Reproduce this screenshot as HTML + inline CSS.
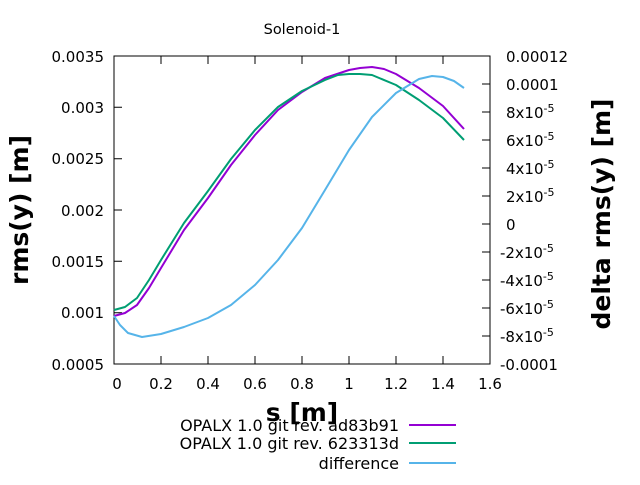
<!DOCTYPE html>
<html><head><style>body{margin:0;background:#fff}</style></head><body>
<svg width="640" height="480" xmlns="http://www.w3.org/2000/svg" font-family="DejaVu Sans, sans-serif" font-size="15">
<rect width="640" height="480" fill="#fff"/>
<text x="302" y="34" text-anchor="middle" font-size="14.5">Solenoid-1</text>
<rect x="114" y="56" width="376" height="308" fill="none" stroke="#000" stroke-width="1"/>
<g stroke="#000" stroke-width="1">
<path d="M114 364v-8M161 364v-8M208 364v-8M255 364v-8M302 364v-8M349 364v-8M396 364v-8M443 364v-8M161 56v8M208 56v8M255 56v8M302 56v8M349 56v8M396 56v8M443 56v8"/>
<path d="M114 312.7h8M114 261.3h8M114 210h8M114 158.7h8M114 107.3h8"/>
<path d="M490 336h-8M490 308h-8M490 280h-8M490 252h-8M490 224h-8M490 196h-8M490 168h-8M490 140h-8M490 112h-8M490 84h-8"/>
</g>
<g text-anchor="middle">
<text x="117" y="389">0</text><text x="161" y="389">0.2</text><text x="208" y="389">0.4</text><text x="255" y="389">0.6</text><text x="302" y="389">0.8</text><text x="349" y="389">1</text><text x="396" y="389">1.2</text><text x="443" y="389">1.4</text><text x="490" y="389">1.6</text>
</g>
<g text-anchor="end">
<text x="104" y="370">0.0005</text><text x="104" y="318">0.001</text><text x="104" y="267">0.0015</text><text x="104" y="216">0.002</text><text x="104" y="164">0.0025</text><text x="104" y="113">0.003</text><text x="104" y="62">0.0035</text>
</g>
<g text-anchor="start">
<text x="500" y="370">-0.0001</text>
<text x="500" y="342">-8x10<tspan dy="-6" font-size="11">-5</tspan></text>
<text x="500" y="314">-6x10<tspan dy="-6" font-size="11">-5</tspan></text>
<text x="500" y="286">-4x10<tspan dy="-6" font-size="11">-5</tspan></text>
<text x="500" y="258">-2x10<tspan dy="-6" font-size="11">-5</tspan></text>
<text x="506" y="230">0</text>
<text x="506" y="202">2x10<tspan dy="-6" font-size="11">-5</tspan></text>
<text x="506" y="174">4x10<tspan dy="-6" font-size="11">-5</tspan></text>
<text x="506" y="146">6x10<tspan dy="-6" font-size="11">-5</tspan></text>
<text x="506" y="118">8x10<tspan dy="-6" font-size="11">-5</tspan></text>
<text x="506" y="90">0.0001</text>
<text x="506" y="62">0.00012</text>
</g>
<text x="302" y="421" text-anchor="middle" font-size="25" font-weight="bold">s [m]</text>
<text transform="translate(28,210) rotate(-90)" text-anchor="middle" font-size="25" font-weight="bold">rms(y) [m]</text>
<text transform="translate(610,214) rotate(-90)" text-anchor="middle" font-size="25" font-weight="bold">delta rms(y) [m]</text>
<g fill="none" stroke-width="2" stroke-linejoin="round">
<polyline stroke="#9400d3" points="114,316 125,313 137,305 149,288 161,268 184,230 208,198 231,165 255,135 278,110 302,92 325,78 349,70 360,68 372,67 384,69 396,74 419,88 443,106 464,129"/>
<polyline stroke="#009e73" points="114,310 125,307 137,298 149,280 161,260 184,223 208,191 231,159 255,130 278,107 302,91 325,80 338,75 349,74 360,74 372,75 396,85 419,100 443,118 464,140"/>
<polyline stroke="#56b4e9" points="114,316 120,325 128,333 142,337 161,334 184,327 208,318 231,305 255,285 278,260 302,228 325,190 349,150 372,117 396,93 419,79 432,76 443,77 454,81 464,88"/>
</g>
<g text-anchor="end" font-size="16">
<text x="399" y="431">OPALX 1.0 git rev. ad83b91</text>
<text x="399" y="449">OPALX 1.0 git rev. 623313d</text>
<text x="399" y="469">difference</text>
</g>
<g stroke-width="2">
<line x1="409" y1="425" x2="456" y2="425" stroke="#9400d3"/>
<line x1="409" y1="443" x2="456" y2="443" stroke="#009e73"/>
<line x1="409" y1="463" x2="456" y2="463" stroke="#56b4e9"/>
</g>
</svg>
</body></html>
